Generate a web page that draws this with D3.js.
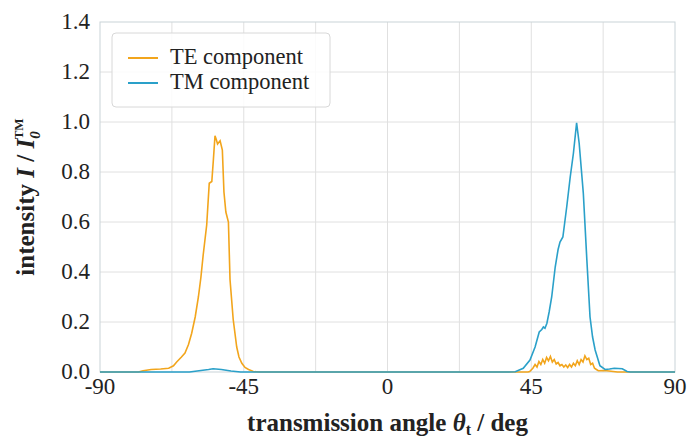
<!DOCTYPE html>
<html lang="en">
<head>
<meta charset="UTF-8">
<title>TE / TM transmission</title>
<script src="https://d3js.org/d3.v7.min.js"></script>
<style>
  body { margin: 0; background: #fff; }
  svg { display: block; }
</style>
</head>
<body>
<svg width="689" height="440"></svg>
<script>
// angle in deg, intensity normalised to TM peak
var teAngle = [-90, -78, -76.5, -74, -71, -68.5, -67, -66, -64.5, -63.4, -62.3, -61.3, -60.2, -59.2, -58.4, -57.7, -56.6, -55.8, -55.0, -54.5, -54.0, -53.6, -53.2, -52.4, -51.7, -51.2, -50.6, -49.8, -49.3, -48.3, -47.2, -46.5, -45.6, -44.6, -43.5, -42, -40,
  44, 44.5, 45.5, 46.2, 46.8, 47.4, 48.0, 48.6, 49.2, 49.8, 50.4, 51.0, 51.6, 52.2, 52.8, 53.4, 54.0, 54.6, 55.2, 55.8, 56.4, 57.0, 57.6, 58.2, 58.8, 59.4, 60.0, 60.6, 61.2, 61.8, 62.4, 63.0, 63.6, 64.2, 64.8, 65.4, 66.0, 68, 70, 72, 90];
var teValue = [0, 0, 0.005, 0.01, 0.012, 0.015, 0.025, 0.04, 0.06, 0.076, 0.11, 0.155, 0.22, 0.30, 0.38, 0.468, 0.588, 0.755, 0.762, 0.85, 0.945, 0.93, 0.912, 0.925, 0.888, 0.72, 0.64, 0.60, 0.37, 0.21, 0.10, 0.06, 0.035, 0.018, 0.01, 0.002, 0,
  0, 0.002, 0.015, 0.03, 0.02, 0.042, 0.03, 0.05, 0.035, 0.058, 0.045, 0.062, 0.04, 0.05, 0.032, 0.038, 0.025, 0.03, 0.02, 0.028, 0.018, 0.03, 0.02, 0.035, 0.025, 0.045, 0.03, 0.05, 0.04, 0.065, 0.05, 0.055, 0.03, 0.035, 0.015, 0.01, 0.005, 0.006, 0.003, 0, 0];

var tmAngle = [-90, -62, -59, -56, -54.6, -52, -49, -46, 38, 40, 42.5, 44.6, 46.2, 47.5, 48.3, 48.8, 49.3, 49.9, 50.6, 51.4, 52.5, 53.4, 54.0, 54.9, 55.5, 56.1, 57.2, 58.2, 59.2, 60.0, 61.3, 62.4, 63.4, 64.2, 65.0, 66.5, 68.1, 69.5, 71, 73.5, 75, 76, 90];
var tmValue = [0, 0, 0.005, 0.01, 0.013, 0.01, 0.004, 0, 0, 0.001, 0.015, 0.048, 0.10, 0.16, 0.17, 0.18, 0.175, 0.195, 0.24, 0.30, 0.42, 0.49, 0.52, 0.54, 0.60, 0.66, 0.78, 0.875, 0.997, 0.915, 0.715, 0.45, 0.22, 0.14, 0.088, 0.025, 0.01, 0.012, 0.015, 0.013, 0.002, 0, 0];

var xTicks = [-90, -45, 0, 45, 90];
var xGrid = [-67.5, -45, -22.5, 0, 22.5, 45, 67.5];
var yTicks = [0, 0.2, 0.4, 0.6, 0.8, 1.0, 1.2, 1.4];
var seriesNames = ["TE component", "TM component"];
var seriesColors = ["#f2a51c", "#2aa0c9"];

var FONT = "'Liberation Serif', 'Times New Roman', serif";
var svg = d3.select("svg");
var pl = 100, pr = 675, pt = 22, pb = 372;

var x = d3.scaleLinear().domain([-90, 90]).range([pl, pr]);
var y = d3.scaleLinear().domain([0, 1.4]).range([pb, pt]);

// grid
svg.append("g").selectAll("line").data(xGrid).enter().append("line")
  .attr("x1", d => x(d)).attr("x2", d => x(d))
  .attr("y1", pt).attr("y2", pb)
  .style("stroke", "#e0e0e0").style("stroke-width", "1px");
svg.append("g").selectAll("line").data(yTicks.slice(1, -1)).enter().append("line")
  .attr("x1", pl).attr("x2", pr)
  .attr("y1", d => y(d)).attr("y2", d => y(d))
  .style("stroke", "#e0e0e0").style("stroke-width", "1px");

// frame
svg.append("rect")
  .attr("x", pl).attr("y", pt)
  .attr("width", pr - pl).attr("height", pb - pt)
  .style("fill", "none").style("stroke", "#c9d3d8").style("stroke-width", "1px");

// tick labels
svg.append("g").selectAll("text").data(yTicks).enter().append("text")
  .attr("x", pl - 10).attr("y", d => y(d) + 7)
  .attr("text-anchor", "end")
  .style("font-family", FONT).style("fill", "#222")
  .style("font-size", "23px")
  .text(d => d.toFixed(1));
svg.append("g").selectAll("text").data(xTicks).enter().append("text")
  .attr("x", d => x(d)).attr("y", pb + 22)
  .attr("text-anchor", "middle")
  .style("font-family", FONT).style("fill", "#222")
  .style("font-size", "23px")
  .text(d => d);

// curves
var line = d3.line().x(d => x(d[0])).y(d => y(d[1]));
var teData = teAngle.map((a, i) => [a, teValue[i]]);
var tmData = tmAngle.map((a, i) => [a, tmValue[i]]);

svg.append("path").datum(teData)
  .attr("d", line)
  .style("fill", "none").style("stroke", seriesColors[0]).style("stroke-width", "1.6px");
svg.append("path").datum(tmData)
  .attr("d", line)
  .style("fill", "none").style("stroke", seriesColors[1]).style("stroke-width", "1.6px");

// legend
var lg = svg.append("g").attr("transform", "translate(112,33)");
lg.append("rect").attr("width", 218).attr("height", 74).attr("rx", 4)
  .style("fill", "#fff").style("fill-opacity", 0.85)
  .style("stroke", "#d8d8d8").style("stroke-width", "1px");
seriesNames.forEach((name, i) => {
  lg.append("line")
    .attr("x1", 16).attr("x2", 46)
    .attr("y1", 25 + i * 25).attr("y2", 25 + i * 25)
    .style("stroke", seriesColors[i]).style("stroke-width", "2px");
  lg.append("text")
    .attr("x", 58).attr("y", 31 + i * 25)
    .style("font-family", FONT).style("fill", "#222")
    .style("font-size", "22.5px")
    .text(name);
});

// axis titles
var xt = svg.append("text")
  .attr("x", (pl + pr) / 2).attr("y", 431)
  .attr("text-anchor", "middle")
  .style("font-family", FONT).style("fill", "#222")
  .style("font-size", "25px").style("font-weight", "bold");
xt.append("tspan").text("transmission angle ");
xt.append("tspan").style("font-style", "italic").text("θ");
xt.append("tspan").attr("dy", 4).style("font-size", "16px").style("font-style", "normal").text("t");
xt.append("tspan").attr("dy", -4).text(" / deg");

var yt = svg.append("text")
  .attr("transform", "translate(34," + ((pt + pb) / 2) + ") rotate(-90)")
  .attr("text-anchor", "middle")
  .style("font-family", FONT).style("fill", "#222")
  .style("font-size", "25px").style("font-weight", "bold");
yt.append("tspan").text("intensity ");
yt.append("tspan").style("font-style", "italic").text("I");
yt.append("tspan").text(" / ");
yt.append("tspan").style("font-style", "italic").text("I");
yt.append("tspan").attr("dy", 6).style("font-size", "15px").style("font-style", "italic").text("0");
yt.append("tspan").attr("dx", -8).attr("dy", -17).style("font-size", "13px").text("TM");
</script>
</body>
</html>
